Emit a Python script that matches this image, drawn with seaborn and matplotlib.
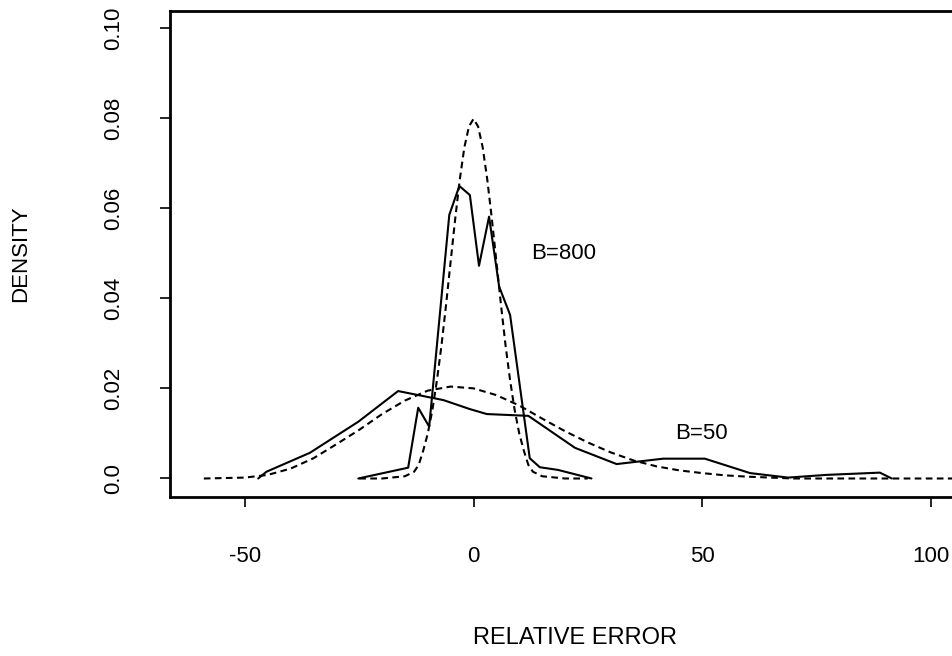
import matplotlib
matplotlib.use("Agg")
import matplotlib.pyplot as plt
import seaborn as sns

# B=800: empirical density (solid) and normal approximation (dashed)
b800_emp_x = [-25.2, -14.3, -12.1, -9.7, -5.3, -3.1, -0.8, 1.2, 3.4, 5.6, 8.0, 12.3, 14.5, 18.5, 25.8]
b800_emp_y = [0.0000, 0.0024, 0.0157, 0.0115, 0.0585, 0.0649, 0.0629, 0.0472, 0.0581, 0.0426, 0.0363,
              0.0045, 0.0025, 0.0019, 0.0000]

b800_fit_x = [-25, -20, -15, -13, -12, -11, -10, -9, -8, -7, -6, -5, -4, -3, -2, -1, 0,
              1, 2, 3, 4, 5, 6, 7, 8, 9, 10, 11, 12, 13, 15, 20, 25]
b800_fit_y = [0.0000, 0.0000, 0.0005, 0.0015, 0.0030, 0.0062, 0.0100, 0.0152, 0.0218, 0.0296, 0.0386,
              0.0482, 0.0577, 0.0664, 0.0735, 0.0781, 0.0798,
              0.0781, 0.0735, 0.0664, 0.0577, 0.0482, 0.0386, 0.0296, 0.0218, 0.0152, 0.0100,
              0.0062, 0.0030, 0.0015, 0.0005, 0.0000, 0.0000]

# B=50: empirical density (solid) and normal approximation (dashed)
b50_emp_x = [-47.1, -45.3, -35.8, -25.2, -16.5, -6.6, -0.8, 2.9, 12.0, 22.2, 31.3, 41.5, 50.6,
             60.5, 68.8, 77.2, 88.9, 91.5]
b50_emp_y = [0.0000, 0.0015, 0.0057, 0.0126, 0.0194, 0.0174, 0.0154, 0.0143, 0.0139, 0.0068, 0.0032,
             0.0044, 0.0044, 0.0012, 0.0002, 0.0008, 0.0013, 0.0000]

b50_fit_x = [-59, -50, -45, -40, -35, -30, -25, -20, -15, -10, -5, 0, 5, 10, 15, 20, 25, 30,
             35, 40, 45, 50, 55, 60, 65, 70, 80, 90, 100, 110]
b50_fit_y = [0.0000, 0.0002, 0.0008, 0.0022, 0.0045, 0.0076, 0.0108, 0.0143, 0.0173, 0.0195, 0.0204,
             0.0200, 0.0185, 0.0162, 0.0133, 0.0105, 0.0080, 0.0058, 0.0040, 0.0027, 0.0018, 0.0012,
             0.0007, 0.0004, 0.0002, 0.0000, 0.0000, 0.0000, 0.0000, 0.0000]

x_ticks = [-50, 0, 50, 100]
x_tick_labels = ["-50", "0", "50", "100"]
y_ticks = [0.0, 0.02, 0.04, 0.06, 0.08, 0.10]
y_tick_labels = ["0.0", "0.02", "0.04", "0.06", "0.08", "0.10"]

sns.set_style("ticks")
plt.rcParams["font.family"] = ["Liberation Sans", "DejaVu Sans"]
plt.rcParams["text.color"] = "black"
plt.rcParams["axes.labelcolor"] = "black"

fig = plt.figure(figsize=(9.53, 6.56), dpi=100)
ax = fig.add_axes([170 / 953, 1 - 496.7 / 656, 810 / 953, 486 / 656])

dash = (0, (3.2, 2.1))
lw = 1.5
sns.lineplot(x=b800_emp_x, y=b800_emp_y, ax=ax, color="black", lw=lw, estimator=None)
sns.lineplot(x=b800_fit_x, y=b800_fit_y, ax=ax, color="black", lw=lw, linestyle=dash, estimator=None)
sns.lineplot(x=b50_emp_x, y=b50_emp_y, ax=ax, color="black", lw=lw, estimator=None)
sns.lineplot(x=b50_fit_x, y=b50_fit_y, ax=ax, color="black", lw=lw, linestyle=dash, estimator=None)

ax.text(12.6, 0.050, "B=800", ha="left", va="center", fontsize=16)
ax.text(49.9, 0.010, "B=50", ha="center", va="center", fontsize=16)

ax.set_xlim(-66.4, 110.8)
ax.set_ylim(-0.00404, 0.1038)
ax.set_xticks(x_ticks)
ax.set_xticklabels(x_tick_labels)
ax.set_yticks(y_ticks)
ax.set_yticklabels(y_tick_labels, rotation=90, va="center")

for s in ax.spines.values():
    s.set_linewidth(2.0)
    s.set_color("black")
ax.tick_params(axis="both", length=7.2, width=1.2, labelsize=16, colors="black")
ax.tick_params(axis="x", pad=28)
ax.tick_params(axis="y", pad=26)

ax.set_xlabel("RELATIVE ERROR", fontsize=17)
ax.xaxis.label.set_va("center")
ax.xaxis.set_label_coords(0.5, (496.7 - 638) / 486)
ax.set_ylabel("DENSITY", fontsize=16)
ax.yaxis.label.set_va("center")
ax.yaxis.set_label_coords((21 - 170) / 810, 0.5)

fig.savefig("out.png", dpi=100)
